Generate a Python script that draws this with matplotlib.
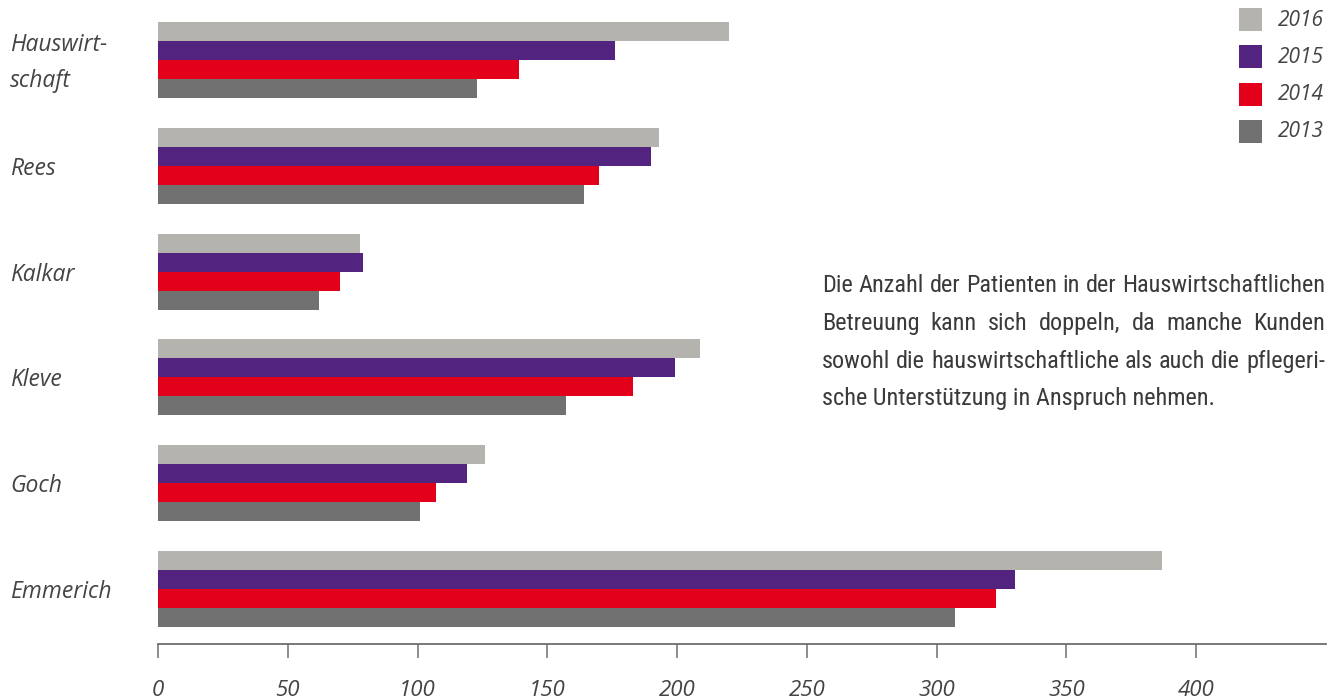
import matplotlib
matplotlib.use("Agg")
import matplotlib.pyplot as plt

categories = ["Hauswirt-\nschaft", "Rees", "Kalkar", "Kleve", "Goch", "Emmerich"]
years = ["2016", "2015", "2014", "2013"]
v2016 = [220, 193, 78, 209, 126, 387]
v2015 = [176, 190, 79, 199, 119, 330]
v2014 = [139, 170, 70, 183, 107, 323]
v2013 = [123, 164, 62, 157, 101, 307]
series = [v2016, v2015, v2014, v2013]
colors = ["#b4b3ae", "#52247f", "#e2001a", "#717171"]
xticks = [0, 50, 100, 150, 200, 250, 300, 350, 400]
note_lines = [
    "Die Anzahl der Patienten in der Hauswirtschaftlichen",
    "Betreuung kann sich doppeln, da manche Kunden",
    "sowohl die hauswirtschaftliche als auch die pflegeri-",
    "sche Unterstützung in Anspruch nehmen.",
]

W, H = 1340, 699
fig = plt.figure(figsize=(W / 100, H / 100), dpi=100)

ax_left, ax_right = 158, 1326
ax_top, ax_bottom = 0, 644
ax = fig.add_axes([ax_left / W, 1 - ax_bottom / H, (ax_right - ax_left) / W, (ax_bottom - ax_top) / H])

spacing = 105.8
bar_px = 19.0
h = bar_px / spacing
n = len(categories)
centers = [n - 1 - i for i in range(n)]
ylim_bottom = -(644 - 589) / spacing
ylim_top = (n - 1) + (60 - 0) / spacing
for j, (vals, col) in enumerate(zip(series, colors)):
    off = (1.5 - j) * h
    ax.barh([c + off for c in centers], vals, height=h, color=col, linewidth=0)

ax.set_xlim(0, 450)
ax.set_ylim(ylim_bottom, ylim_top)
for s in ["top", "right", "left"]:
    ax.spines[s].set_visible(False)
ax.spines["bottom"].set_color("#6d6d6d")
ax.spines["bottom"].set_linewidth(1.3)
ax.set_yticks([])
ax.set_xticks(xticks)
ax.set_xticklabels([str(t) for t in xticks], fontfamily="Open Sans", fontstyle="italic",
                   fontsize=16, color="#444444")
ax.tick_params(axis="x", direction="out", length=10, width=1.1, color="#6d6d6d", pad=16)

for c, lab in zip(centers, categories):
    y_px = 589 - c * spacing + 3
    fig.text(10 / W, 1 - y_px / H, lab, ha="left", va="center", fontfamily="Open Sans",
             fontstyle="italic", fontsize=16.5, color="#444444", linespacing=1.65)

for k, (yr, col) in enumerate(zip(years, colors)):
    top = 8 + k * 37.3
    fig.patches.append(plt.Rectangle((1239 / W, 1 - (top + 23) / H), 23 / W, 23 / H,
                                     transform=fig.transFigure, color=col, linewidth=0))
    fig.text(1278 / W, 1 - (top + 12) / H, yr, ha="left", va="center", fontfamily="Open Sans",
             fontstyle="italic", fontsize=15, color="#444444")

# justified note text
fig.canvas.draw()
renderer = fig.canvas.get_renderer()
x0, x1 = 822, 1325
baselines = [292, 330, 368, 405]
fam = ["Roboto Condensed", "Roboto"]
fs = 13.5
probe = fig.text(0, 0, note_lines[0], fontfamily=fam, fontsize=fs)
pw = probe.get_window_extent(renderer).width
probe.remove()
fs = fs * (x1 - x0) / pw
for li, (line, yb) in enumerate(zip(note_lines, baselines)):
    words = line.split(" ")
    if li == len(note_lines) - 1:
        fig.text(x0 / W, 1 - yb / H, line, ha="left", va="baseline", fontfamily=fam,
                 fontsize=fs, color="#3a3a3a")
        continue
    objs, widths = [], []
    for w in words:
        t = fig.text(0, 1 - yb / H, w, ha="left", va="baseline", fontfamily=fam,
                     fontsize=fs, color="#3a3a3a")
        objs.append(t)
        widths.append(t.get_window_extent(renderer).width)
    gap = ((x1 - x0) - sum(widths)) / (len(words) - 1)
    x = x0
    for t, wdt in zip(objs, widths):
        t.set_x(x / W)
        x += wdt + gap

fig.savefig("out.png", dpi=100)
